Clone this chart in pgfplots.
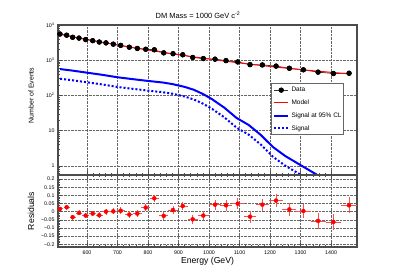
\documentclass[border=0pt]{standalone}
\usepackage{pgfplots}
\usepackage{pgfplotstable}
\pgfplotsset{compat=1.18}
\usepackage{fontspec}
\setmainfont{Liberation Sans}

\pgfplotstableread{
E data model res err ex
511.5 5541 5448 0.017 0.0134 9.2
533.4 5137 5002 0.027 0.0140 9.6
553.0 4481 4639 -0.034 0.0149 10.0
573.8 4254 4288 -0.008 0.0153 10.3
595.7 3857 3952 -0.024 0.0161 10.7
618.7 3586 3630 -0.012 0.0167 11.1
640.3 3284 3358 -0.022 0.0175 11.5
662.3 3104 3104 0.000 0.0179 11.9
686.2 2860 2854 0.002 0.0187 12.4
710.5 2640 2624 0.006 0.0195 12.8
738.7 2343 2386 -0.018 0.0207 13.3
764.9 2161 2187 -0.012 0.0215 13.8
792.5 2050 2000 0.025 0.0221 14.3
820.7 1978 1828 0.082 0.0225 14.8
851.5 1619 1662 -0.026 0.0249 15.3
882.0 1531 1516 0.010 0.0256 15.9
913.8 1428 1380 0.035 0.0265 16.5
946.6 1197 1256 -0.047 0.0289 17.1
981.3 1113 1140 -0.024 0.0300 17.7
1019.7 1072 1028 0.043 0.0305 18.4
1055.7 974 937 0.039 0.0320 19.0
1094.1 893 851 0.049 0.0335 19.7
1134.4 749 773 -0.031 0.0365 20.5
1174.8 734 704 0.043 0.0369 21.2
1219.7 681 638 0.068 0.0383 22.0
1263.3 591 583 0.014 0.0411 22.8
1309.2 534 532 0.004 0.0433 23.7
1357.4 459 487 -0.057 0.0467 24.5
1407.5 419 447 -0.063 0.0489 25.4
1459.0 427 411 0.039 0.0484 26.4
}\datatab

\pgfplotstableread{
E cl sig
512 560 298
550 510 271
600 443 236
650 385 205
700 328 174
750 290 154
800 258 137
850 232 123
880 210 112
920 175 93
950 145 77
980 110 58.5
1010 78 41.5
1050 45 24
1090 23 12.2
1130 14.5 7.7
1170 7.5 4.0
1210 3.4 1.8
1250 1.9 1.01
1300 1.05 0.56
1355 0.55 0.29
}\sigtab

\definecolor{rootblue}{RGB}{0,0,255}
\definecolor{rootred}{RGB}{255,0,0}

\pgfplotsset{
  rootstyle/.style={
    scale only axis, width=299bp,
    xmin=505, xmax=1485,
    axis line style={black!70, line width=1.2bp},
    tick style={black!70, line width=0.5bp},
    major tick length=4bp, minor tick length=2bp,
    tick align=inside,
    grid=major,
    major grid style={densely dotted, black!60, line width=0.45bp},
    minor grid style={draw=none},
    tick label style={font=\fontsize{5.3}{6}\selectfont},
    xtick={600,700,800,900,1000,1100,1200,1300,1400},
    minor x tick num=4,
    ytick pos=left,
  }
}

\begin{document}
\begin{tikzpicture}
\path[use as bounding box] (0bp,0bp) rectangle (415bp,271bp);

\begin{axis}[rootstyle,
  at={(58bp,96bp)}, anchor=south west, height=150bp,
  ymode=log, ymin=0.55, ymax=10000,
  ytick={1,10,100,1000,10000},
  yticklabels={1,10,10\textsuperscript{2},10\textsuperscript{3},10\textsuperscript{4}},
  minor ytick={0.6,0.7,0.8,0.9,2,3,4,5,6,7,8,9,20,30,40,50,60,70,80,90,200,300,400,500,600,700,800,900,2000,3000,4000,5000,6000,7000,8000,9000},
  xticklabels={},
  xtick pos=left,
  ylabel={Number of Events},
  every axis y label/.style={at={(axis description cs:-0.09,0.53)}, rotate=90, anchor=center, font=\fontsize{7}{8}\selectfont},
  legend style={at={(rel axis cs:0.712,0.611)}, anchor=north west,
    draw=black!60, fill=white, line width=0.7bp,
    font=\fontsize{6.5}{7}\selectfont,
    inner xsep=2bp, inner ysep=3.2bp,
    row sep=6.2bp, column sep=2.3bp,
    nodes={inner sep=0bp, text height=5bp, text depth=1.5bp}},
  legend cell align=left,
  legend image code/.code={\draw[mark repeat=2,mark phase=2,#1] plot coordinates {(0bp,0bp) (7bp,0bp) (14bp,0bp)};},
]
\addplot[black!80, line width=0.7bp, mark=*, mark size=2.3bp, mark options={solid, fill=black, draw=black}] table[x=E,y=data]{\datatab};
\addlegendentry{Data}
\addplot[rootred, line width=1bp] table[x=E,y=model]{\datatab};
\addlegendentry{Model}
\addplot[rootblue, line width=2bp] table[x=E,y=cl]{\sigtab};
\addlegendentry{Signal at 95\% CL}
\addplot[rootblue, line width=2bp, dash pattern=on 2bp off 2bp] table[x=E,y=sig]{\sigtab};
\addlegendentry{Signal}
\addplot[black, only marks, mark=*, mark size=2.3bp, forget plot] table[x=E,y=data]{\datatab};
\end{axis}

\begin{axis}[rootstyle,
  at={(58bp,24bp)}, anchor=south west, height=72bp,
  ymin=-0.217, ymax=0.225,
  ytick={-0.2,-0.15,-0.1,-0.05,0,0.05,0.1,0.15,0.2},
  yticklabels={−0.2,−0.15,−0.1,−0.05,0,0.05,0.1,0.15,0.2},
  minor y tick num=4,
  xticklabels={600,700,800,900,1000,1100,1200,1300,1400},
  xtick pos=both,
  xlabel={Energy (GeV)}, ylabel={Residuals},
  every axis x label/.style={at={(axis description cs:0.5,-0.194)}, anchor=center, font=\fontsize{8.7}{10}\selectfont},
  every axis y label/.style={at={(axis description cs:-0.09,0.5)}, rotate=90, anchor=center, font=\fontsize{8.7}{10}\selectfont},
]
\addplot[only marks, rootred, mark=*, mark size=2bp,
  error bars/.cd, x dir=both, x explicit, y dir=both, y explicit,
  error bar style={rootred!70, line width=0.8bp}, error mark=none]
  table[x=E, y=res, x error=ex, y error=err]{\datatab};
\end{axis}

\node[font=\fontsize{7.5}{9}\selectfont] at (198bp,256bp) {DM Mass = 1000 GeV c\textsuperscript{-2}};
\end{tikzpicture}
\end{document}
